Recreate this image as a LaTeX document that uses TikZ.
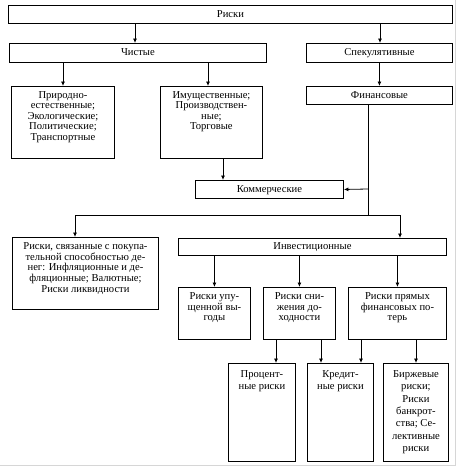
\documentclass[tikz,border=0pt]{standalone}
\usepackage{fontspec}
\setmainfont{Liberation Serif}
\usetikzlibrary{arrows.meta}
\begin{document}
\begin{tikzpicture}[x=1pt,y=-1pt,
  box/.style={draw=black,line width=0.9pt,inner sep=0pt,anchor=north west},
  txt/.style={inner sep=0pt,align=center,anchor=north,font=\fontsize{10.6}{10.6}\selectfont},
  txtb/.style={txt,font=\fontsize{10.6}{12.3}\selectfont},
  arr/.style={line width=0.8pt,-{Latex[length=4.5pt,width=4pt]}},
  ln/.style={line width=0.8pt}]
\useasboundingbox (0,0) rectangle (457,467);
\draw[color=black!16,line width=1pt] (0,465.5) -- (455.5,465.5) -- (455.5,0);
% boxes
\node[box,minimum width=444,minimum height=18] (risk) at (8,5) {};
\node[box,minimum width=257,minimum height=19] (chist) at (9,43) {};
\node[box,minimum width=146,minimum height=19] (spek) at (306,43) {};
\node[box,minimum width=103,minimum height=72] (prir) at (11,86) {};
\node[box,minimum width=102,minimum height=72] (imush) at (160,86) {};
\node[box,minimum width=146,minimum height=18] (fin) at (306,86) {};
\node[box,minimum width=148,minimum height=18] (komm) at (195,180) {};
\node[box,minimum width=146,minimum height=72] (pokup) at (12,237) {};
\node[box,minimum width=268,minimum height=17] (invest) at (178,238) {};
\node[box,minimum width=72,minimum height=52] (upush) at (178,287) {};
\node[box,minimum width=72,minimum height=52] (snizh) at (263,287) {};
\node[box,minimum width=98,minimum height=52] (pryam) at (348,287) {};
\node[box,minimum width=67,minimum height=98] (proc) at (228,363) {};
\node[box,minimum width=66,minimum height=98] (kred) at (307,363) {};
\node[box,minimum width=65,minimum height=98] (birzh) at (383,363) {};
% texts
\node[txt] (trisk) at ([yshift=-5]risk.north) {Риски};
\node[txt] (tchist) at ([yshift=-5.5]chist.north) {Чистые};
\node[txt] (tspek) at ([yshift=-5.5]spek.north) {Спекулятивные};
\node[txt] (tfin) at ([yshift=-5]fin.north) {Финансовые};
\node[txt] (tkomm) at ([yshift=-5]komm.north) {Коммерческие};
\node[txt] (tinvest) at ([yshift=-4.5]invest.north) {Инвестиционные};
\node[txt] (tprir) at ([yshift=-5]prir.north) {Природно-\\естественные;\\Экологические;\\Политические;\\Транспортные};
\node[txt] (timush) at ([yshift=-5]imush.north) {Имущественные;\\Производствен-\\ные;\\Торговые};
\node[txt] (tpokup) at ([yshift=-5.5]pokup.north) {Риски, связанные с покупа-\\тельной способностью де-\\нег: Инфляционные и де-\\фляционные; Валютные;\\Риски ликвидности};
\node[txt] (tupush) at ([yshift=-5.5]upush.north) {Риски упу-\\щенной вы-\\годы};
\node[txt] (tsnizh) at ([yshift=-5.5]snizh.north) {Риски сни-\\жения до-\\ходности};
\node[txt] (tpryam) at ([yshift=-5.5]pryam.north) {Риски прямых\\финансовых по-\\терь};
\node[txtb] (tproc) at ([yshift=-7.5]proc.north) {Процент-\\ные риски};
\node[txtb] (tkred) at ([yshift=-7.5]kred.north) {Кредит-\\ные риски};
\node[txtb] (tbirzh) at ([yshift=-7.5]birzh.north) {Биржевые\\риски;\\Риски\\банкрот-\\ства; Се-\\лективные\\риски};
% helper coordinates
\coordinate (xa) at (135,0);
\coordinate (xb) at (380,0);
\coordinate (xc) at (63,0);
\coordinate (xd) at (208,0);
\coordinate (xe) at (223,0);
\coordinate (j1) at (368,189);
\coordinate (j2) at (368,215);
\coordinate (L) at (75,215);
\coordinate (R) at (400,215);
\coordinate (xf) at (276,0);
\coordinate (xg) at (321,0);
\coordinate (xh) at (361,0);
\coordinate (xi) at (416,0);
% connectors
\draw[arr] (risk.south -| xa) -- (chist.north -| xa);
\draw[arr] (risk.south -| xb) -- (spek.north -| xb);
\draw[arr] (chist.south -| xc) -- (prir.north -| xc);
\draw[arr] (chist.south -| xd) -- (imush.north -| xd);
\draw[arr] (spek.south -| fin.north) -- (fin.north);
\draw[arr] (imush.south -| xe) -- (komm.north -| xe);
\draw[ln] (fin.south -| j2) -- (j2);
\draw[arr] (j1) -- (komm.east);
\draw[ln] (L) -- (R);
\draw[arr] (L) -- (L |- pokup.north);
\draw[arr] (R) -- (R |- invest.north);
\draw[arr] (invest.south -| upush.north) -- (upush.north);
\draw[arr] (invest.south -| snizh.north) -- (snizh.north);
\draw[arr] (invest.south -| pryam.north) -- (pryam.north);
\draw[arr] (snizh.south -| xf) -- (proc.north -| xf);
\draw[arr] (snizh.south -| xg) -- (kred.north -| xg);
\draw[arr] (pryam.south -| xh) -- (kred.north -| xh);
\draw[arr] (pryam.south -| xi) -- (birzh.north -| xi);
\end{tikzpicture}
\end{document}
